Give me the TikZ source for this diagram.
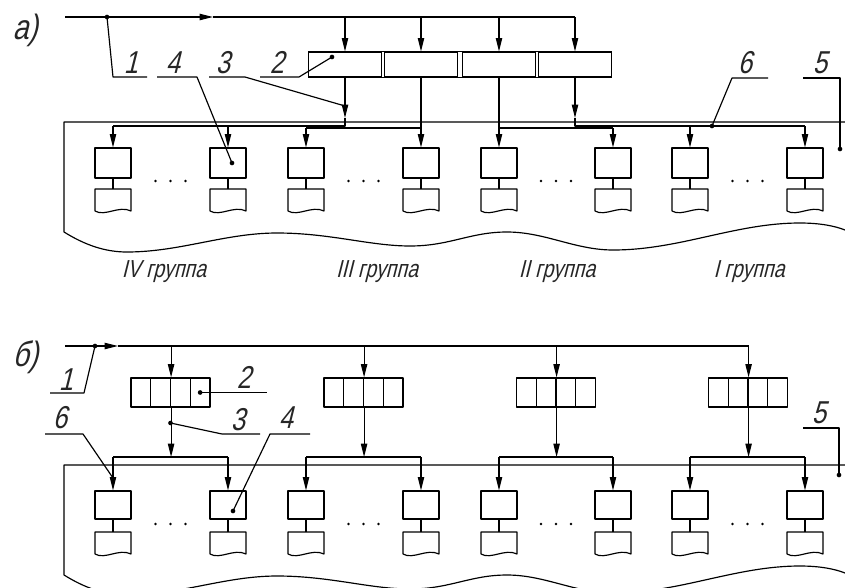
\documentclass[tikz,border=0pt]{standalone}
\usepackage{fontspec}
\newfontfamily\gostfont[FakeSlant=0.25,FakeStretch=0.8]{Liberation Sans}
\usetikzlibrary{arrows.meta}

\tikzset{
  arr/.style={-{Triangle[length=4mm,width=1.9mm]}},
  blk/.style={draw,minimum width=10.8mm,minimum height=9mm,inner sep=0pt},
  blkb/.style={blk,minimum height=8.4mm},
  rcell/.style={draw,minimum width=21.75mm,minimum height=7.5mm,inner sep=0pt},
  bcell/.style={draw,minimum width=5.925mm,minimum height=8.7mm,inner sep=0pt},
  num/.style={font=\gostfont\fontsize{27}{27}\selectfont,text=black!85,inner sep=0pt,anchor=base},
  partlbl/.style={num,font=\gostfont\fontsize{30}{30}\selectfont,anchor=base west},
  grp/.style={font=\gostfont\fontsize{21}{21}\selectfont,text=black!85,inner sep=0pt,anchor=base},
  pt/.style={circle,fill,inner sep=0pt,minimum size=1.4mm},
}

\begin{document}
\begin{tikzpicture}[x=0.3mm,y=-0.3mm,line width=1pt,line join=round]
  \useasboundingbox (0,0) rectangle (845,587);
  \clip (0,0) rectangle (845,587);

  % panels with broken-off lower edge
  \foreach \dy in {0,343}
    \draw[shift={(0,\dy)}] (845,122) -- (64,122) -- (64,232)
      .. controls (85,245) and (105,252) .. (127,252)
      .. controls (180,252) and (225,233) .. (277,233)
      .. controls (330,233) and (370,246) .. (410,246)
      .. controls (450,246) and (470,232) .. (507,232)
      .. controls (545,232) and (575,250) .. (613,250)
      .. controls (680,250) and (735,223) .. (800,223)
      .. controls (820,223) and (835,226) .. (845,230);

  % ---------------- a) ----------------
  \node[partlbl] (capA) at (12,39) {а)};
  \coordinate (inA) at (65,17);
  \coordinate (tipA) at (213,17);
  \coordinate (stopA) at (0,118);
  \coordinate (busA) at (0,126);
  \coordinate (busB) at (0,128);

  \foreach \c [count=\j] in {345,421,499,575}
    \node[rcell] (ra\j) at (\c,64.5) {};
  \draw (ra1.north west) -- (ra4.north east);
  \draw (ra1.south west) -- (ra4.south east);

  \draw[arr] (inA) -- (tipA);
  \draw (tipA) -- (ra4.north |- inA);
  \foreach \j in {1,...,4}
    \draw[arr] (ra\j.north |- inA) -- (ra\j.north);

  \foreach \x [count=\i] in {113,228,306,421,499,613,690,805}{
    \node[blk] (a\i) at (\x,163) {};
    \coordinate (ad\i) at (\x,189);
    \draw (a\i) -- (ad\i);
    \draw (ad\i) -- ++(-18,0) -- ++(0,22)
      .. controls +(10,6) and +(-12,-6) .. ++(36,0) -- ++(0,-22) -- cycle;
  }
  \foreach \c in {170.5,363.5,556,747.5}
    \foreach \d in {-15,0,15}
      \fill (\c+\d,181) circle (1.1pt);

  % group IV
  \draw[arr] (ra1.south) -- (ra1.south |- stopA);
  \draw (ra1.south |- stopA) -- (ra1.south |- busA) -- (a1.north |- busA);
  \foreach \i in {1,2}
    \draw[arr] (a\i.north |- busA) -- (a\i.north);
  % group III
  \draw[arr] (ra2.south) -- (a4.north);
  \draw (a4.north |- busB) -- (a3.north |- busB);
  \draw[arr] (a3.north |- busB) -- (a3.north);
  % group II
  \draw[arr] (ra3.south) -- (a5.north);
  \draw (a5.north |- busB) -- (a6.north |- busB);
  \draw[arr] (a6.north |- busB) -- (a6.north);
  % group I
  \draw[arr] (ra4.south) -- (ra4.south |- stopA);
  \draw (ra4.south |- stopA) -- (ra4.south |- busA) -- (a8.north |- busA);
  \foreach \i in {7,8}
    \draw[arr] (a\i.north |- busA) -- (a\i.north);

  \node[grp] (g4) at (164,277) {IV группа};
  \node[grp] (g3) at (377,277) {III группа};
  \node[grp] (g2) at (557,277) {II группа};
  \node[grp] (g1) at (749,277) {I группа};

  % leaders
  \node[pt] (d1) at (107,17) {};
  \coordinate (s1) at (113,77);
  \draw (d1.center) -- (s1) -- ++(34,0);
  \node[num] (n1) at (131,73) {1};

  \node[pt] (d4) at (232,163) {};
  \coordinate (s4) at (197,77);
  \draw (d4.center) -- (s4) -- ++(-40,0);
  \node[num] (n4) at (173,73) {4};

  \coordinate (e3) at (345,106);
  \coordinate (s3) at (245,77);
  \draw (e3) -- (s3) -- ++(-36,0);
  \node[num] (n3) at (223,73) {3};

  \node[pt] (d2) at (332,57) {};
  \coordinate (s2) at (299,77);
  \draw (d2.center) -- (s2) -- ++(-39,0);
  \node[num] (n2) at (277,73) {2};

  \node[pt] (d6) at (712,126) {};
  \coordinate (s6) at (732,78);
  \draw (d6.center) -- (s6) -- ++(36,0);
  \node[num] (n6) at (745,73) {6};

  \node[pt] (d5) at (840,149) {};
  \coordinate (s5) at (840,78);
  \draw (d5.center) -- (s5) -- ++(-37,0);
  \node[num] (n5) at (820,73) {5};

  % ---------------- b) ----------------
  \node[partlbl] (capB) at (12,366) {б)};
  \coordinate (inB) at (65,346);
  \coordinate (tipB) at (118,346);
  \coordinate (busC) at (0,457);

  \foreach \c [count=\j] in {170.5,363.5,556,748}
    \foreach \k in {1,...,4}
      \node[bcell] (rb\j\k) at (\c-49.375+19.75*\k,392.5) {};

  \foreach \x [count=\i] in {113,228,306,421,499,613,690,805}{
    \node[blkb] (b\i) at (\x,505) {};
    \coordinate (bd\i) at (\x,532);
    \draw (b\i) -- (bd\i);
    \draw (bd\i) -- ++(-18,0) -- ++(0,22)
      .. controls +(10,6) and +(-12,-6) .. ++(36,0) -- ++(0,-22) -- cycle;
  }
  \foreach \c in {170.5,363.5,556,747.5}
    \foreach \d in {-15,0,15}
      \fill (\c+\d,524) circle (1.1pt);

  \draw[arr] (inB) -- (tipB);
  \draw (tipB) -- (rb42.north east |- inB);
  \foreach \j [evaluate=\j as \l using int(2*\j-1),
               evaluate=\j as \r using int(2*\j)] in {1,...,4}{
    \draw[arr] (rb\j2.north east |- inB) -- (rb\j2.north east);
    \draw[arr] (rb\j2.south east) -- (rb\j2.south east |- busC);
    \draw (b\l.north |- busC) -- (b\r.north |- busC);
    \draw[arr] (b\l.north |- busC) -- (b\l.north);
    \draw[arr] (b\r.north |- busC) -- (b\r.north);
  }

  % leaders
  \node[pt] (q1) at (95,346) {};
  \coordinate (u1) at (84,393);
  \draw (q1.center) -- (u1) -- ++(-34,0);
  \node[num] (m1) at (66,390) {1};

  \node[pt] (q2) at (rb14.center) {};
  \draw (q2.center) -- ++(67,0);
  \node[num] (m2) at (244,388) {2};

  \node[pt] (q3) at (170.5,423) {};
  \coordinate (u3) at (222,434);
  \draw (q3.center) -- (u3) -- ++(38,0);
  \node[num] (m3) at (238,430) {3};

  \node[pt] (q4) at (233,511) {};
  \coordinate (u4) at (270,434);
  \draw (q4.center) -- (u4) -- ++(40,0);
  \node[num] (m4) at (286,428) {4};

  \coordinate (v6) at (113,478);
  \coordinate (u6) at (83,434);
  \draw (v6) -- (u6) -- ++(-38,0);
  \node[num] (m6) at (60,428) {6};

  \node[pt] (q5) at (839,475) {};
  \coordinate (u5) at (839,428);
  \draw (q5.center) -- (u5) -- ++(-36,0);
  \node[num] (m5) at (819,423) {5};
\end{tikzpicture}
\end{document}
